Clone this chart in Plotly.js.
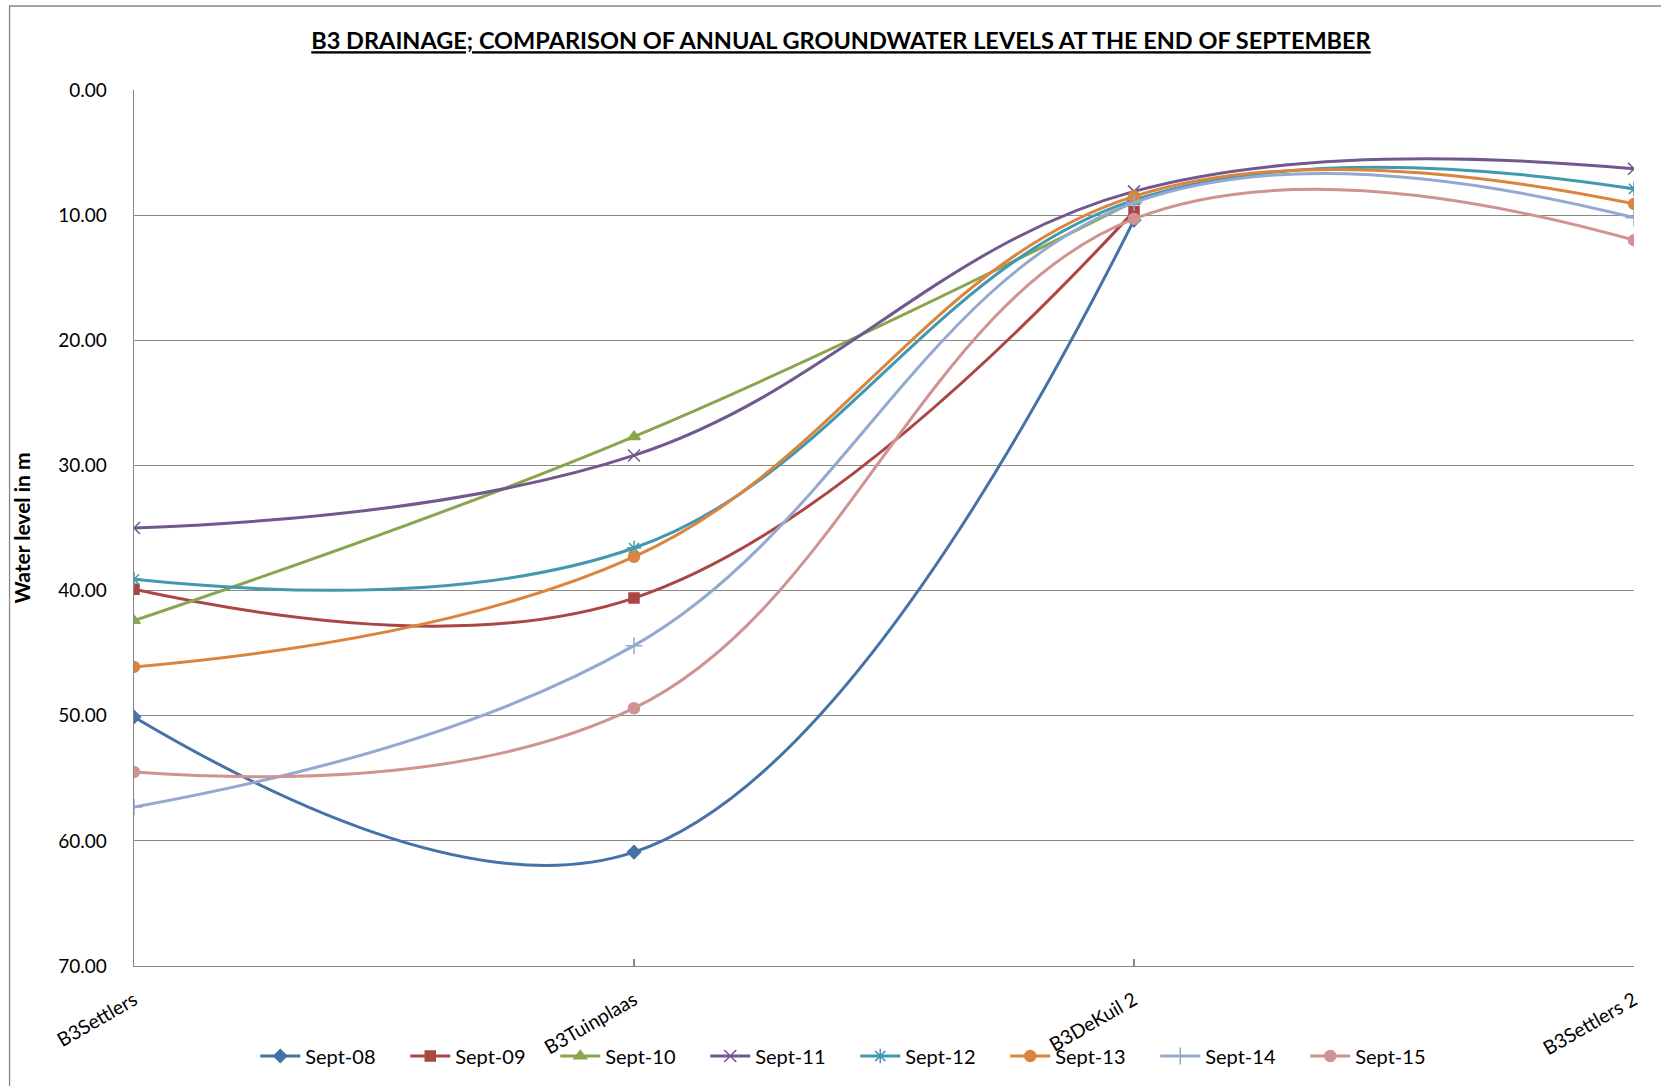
<!DOCTYPE html>
<html>
<head>
<meta charset="utf-8">
<script src="https://cdn.plot.ly/plotly-3.0.1.min.js"></script>
<style>
html,body{margin:0;padding:0;background:#fff;}
#chart{width:1661px;height:1086px;}
</style>
</head>
<body>
<div id="chart"></div>
<script>
const categories = ["B3Settlers", "B3Tuinplaas", "B3DeKuil 2", "B3Settlers 2"];
const seriesNames = ["Sept-08", "Sept-09", "Sept-10", "Sept-11", "Sept-12", "Sept-13", "Sept-14", "Sept-15"];
const sept08 = [50.1, 60.9, 10.4, null];
const sept09 = [39.9, 40.6, 9.7, null];
const sept10 = [42.4, 27.7, 8.9, null];
const sept11 = [35.0, 29.2, 8.1, 6.3];
const sept12 = [39.1, 36.6, 8.8, 7.9];
const sept13 = [46.1, 37.3, 8.5, 9.1];
const sept14 = [57.3, 44.4, 9.0, 10.2];
const sept15 = [54.5, 49.4, 10.3, 12.0];
const seriesValues = [sept08, sept09, sept10, sept11, sept12, sept13, sept14, sept15];
const yTickVals = [0, 10, 20, 30, 40, 50, 60, 70];

const colors = ["#4572A7", "#AA4643", "#89A54E", "#71588F", "#4198AF", "#DB843D", "#93A9CF", "#D19392"];
const symbols = ["diamond", "square", "triangle-up", "x-thin-open", "asterisk-open", "circle", "cross-thin-open", "circle"];
const msizes = [10, 10, 11, 12, 12, 11, 12, 11];

const FONT = "Lato, 'Liberation Sans', sans-serif";

const traces = seriesNames.map((name, i) => ({
  type: "scatter",
  mode: "lines+markers",
  name: name,
  x: categories,
  y: seriesValues[i],
  line: {color: colors[i], width: 3, shape: "spline", smoothing: 1.15},
  marker: {symbol: symbols[i], size: msizes[i], color: colors[i], line: {color: colors[i], width: 1.5}},
  hoverinfo: "skip"
}));

const L = 133.5, R = 1634, T = 90, B = 966;
const pw = R - L, ph = B - T;
function px(x){ return (x - L) / pw; }
function py(y){ return (B - y) / ph; }

const layout = {
  width: 1661,
  height: 1086,
  margin: {l: L, r: 1661 - R, t: T, b: 1086 - B, pad: 0},
  paper_bgcolor: "#ffffff",
  plot_bgcolor: "#ffffff",
  font: {family: FONT, size: 19, color: "#000"},
  showlegend: true,
  title: {
    text: "<b><u>B3 DRAINAGE; COMPARISON OF ANNUAL GROUNDWATER LEVELS AT THE END OF SEPTEMBER</u></b>",
    font: {family: FONT, size: 23.5, color: "#000"},
    x: 841 / 1661, xref: "container", xanchor: "center",
    y: 1 - 41 / 1086, yref: "container", yanchor: "middle"
  },
  xaxis: {
    type: "category",
    range: [0, 3],
    showgrid: false,
    showline: true, linecolor: "#868686", linewidth: 1.3,
    ticks: "inside", ticklen: 7, tickcolor: "#868686", tickwidth: 1.3,
    tickangle: -30,
    tickfont: {family: FONT, size: 19.5, color: "#000"},
    ticklabelstandoff: 14,
    zeroline: false,
    fixedrange: true
  },
  yaxis: {
    range: [70, 0],
    tickvals: yTickVals,
    tickformat: ".2f",
    showgrid: true, gridcolor: "#8a8a8a", gridwidth: 1.1,
    showline: true, linecolor: "#868686", linewidth: 1.3,
    ticks: "",
    ticklabelstandoff: 22,
    tickfont: {family: FONT, size: 19, color: "#000"},
    zeroline: false,
    title: {text: "<b>Water level in m</b>", font: {family: FONT, size: 21, color: "#000"}, standoff: 22},
    fixedrange: true
  },
  legend: {
    orientation: "h",
    x: px(855), xref: "paper", xanchor: "center",
    y: 1 - 1056 / 1086, yref: "container", yanchor: "middle",
    font: {family: FONT, size: 20, color: "#000"},
    entrywidth: 95, entrywidthmode: "pixels",
    itemwidth: 40,
    bgcolor: "rgba(0,0,0,0)",
    traceorder: "normal"
  },
  shapes: [{
    type: "rect", xref: "paper", yref: "paper",
    x0: px(9), x1: px(1700), y0: py(1120), y1: py(6),
    line: {color: "#868686", width: 1.3}, fillcolor: "rgba(0,0,0,0)", layer: "below"
  }]
};

Plotly.newPlot("chart", traces, layout, {displayModeBar: false, staticPlot: true});
</script>
</body>
</html>
